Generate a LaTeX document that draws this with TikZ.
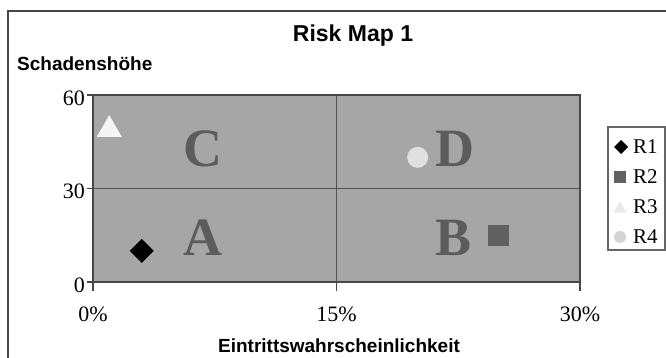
\documentclass[tikz,border=0pt]{standalone}
\usepackage{fontspec}
\setmainfont{Liberation Serif}
\setsansfont{Liberation Sans}
\usepackage{tikz}
\usetikzlibrary{shapes.geometric}
\tikzset{>=latex}
\usepackage{xcolor}
\definecolor{myfield}{RGB}{166,166,166}
\definecolor{myletter}{RGB}{92,92,92}
\colorlet{myframe}{black!72}
\colorlet{mygrid}{black!68}
\colorlet{myr2}{black!62}
\colorlet{myr3}{black!4}
\colorlet{myr4}{black!12}

\begin{document}
\begin{tikzpicture}[
	x=1pt, y=1pt,
	line cap=rect, line join=miter,
	axis/.style={myframe, line width=1.3pt},
	grid/.style={mygrid, line width=1pt},
	zone/.style={font=\fontsize{54}{54}\selectfont\bfseries, text=myletter, inner sep=0pt},
	num/.style={font=\fontsize{22}{22}\selectfont, inner sep=0pt},
	legtext/.style={font=\fontsize{21}{21}\selectfont, inner sep=0pt, anchor=west},
	heading/.style={font=\fontsize{19}{19}\selectfont\sffamily\bfseries, inner sep=0pt},
	riskmark/.style={inner sep=0pt, outer sep=0pt, draw=none}
]
	\def\xunit{16.233pt} % per percent
	\def\yunit{3.1167pt} % per unit of Schadenshoehe
	\useasboundingbox (0,0) rectangle (666,358);

	% outer frame (cut off at right and bottom)
	\draw[myframe, line width=1.5pt] (8,0) -- (8,347) -- (666,347);

	% titles
	\node[font=\fontsize{23}{23}\selectfont\sffamily\bfseries, inner sep=0pt] (title) at (353,322) {Risk Map 1};
	\node[heading, anchor=west] (ylabel) at (17,294) {Schadensh\"ohe};
	\node[heading] (xlabel) at (339,12) {Eintrittswahrscheinlichkeit};

	% plot area in data units
	\begin{scope}[shift={(93,76)}, x=\xunit, y=\yunit]
		\fill[myfield] (0,0) rectangle (30,60);
		\draw[grid] (0,30) -- (30,30);
		\draw[grid] (15,0) -- (15,60);
		\draw[axis] (0,0) rectangle (30,60);
		% ticks and numbers
		\foreach \v in {0,30,60}{
			\draw[axis] (0,\v) -- ++(-5pt,0);
			\node[num, anchor=east] (ytick\v) at ([xshift=-8pt, yshift=-3pt]0,\v) {\v};
		}
		\foreach \p in {0,15,30}{
			\draw[axis] (\p,0) -- ++(0,-8pt);
			\node[num] (xtick\p) at ([yshift=-32pt]\p,0) {\p\%};
		}
		% zones
		\node[zone] (zoneC) at (6.8,42.7) {C};
		\node[zone] (zoneD) at (22.3,42.7) {D};
		\node[zone] (zoneA) at (6.8,14.1) {A};
		\node[zone] (zoneB) at (22.2,14.1) {B};
		% risks
		\node[riskmark, diamond, aspect=1, minimum size=24pt, fill=black] (r1) at (3,10) {};
		\node[riskmark, rectangle, minimum size=21pt, fill=myr2] (r2) at (25,15) {};
		\node[riskmark, regular polygon, regular polygon sides=3, minimum size=29pt, fill=myr3, yshift=-3.5pt] (r3) at (1,50) {};
		\node[riskmark, circle, minimum size=21pt, fill=myr4] (r4) at (20,40) {};
	\end{scope}

	% legend
	\draw[black!60, line width=1.2pt] (608,108) rectangle (665,231);
	\node[riskmark, diamond, aspect=1, minimum size=14pt, fill=black] (leg1) at (621,211) {};
	\node[legtext] (legt1) at (633,211) {R1};
	\node[riskmark, rectangle, minimum size=12pt, fill=myr2] (leg2) at (620,181) {};
	\node[legtext] (legt2) at (633,181) {R2};
	\node[riskmark, regular polygon, regular polygon sides=3, minimum size=15pt, fill=black!9, yshift=-2pt] (leg3) at (620,151) {};
	\node[legtext] (legt3) at (633,151) {R3};
	\node[riskmark, circle, minimum size=12pt, fill=black!17] (leg4) at (620,121) {};
	\node[legtext] (legt4) at (633,121) {R4};
\end{tikzpicture}
\end{document}
